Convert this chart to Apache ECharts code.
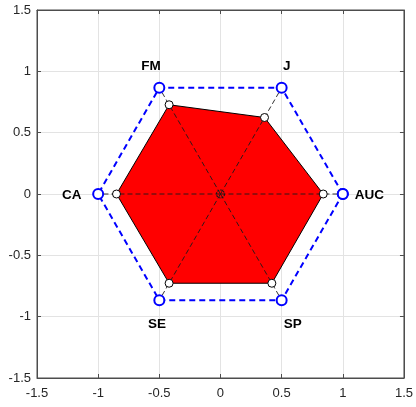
<!DOCTYPE html>
<html>
<head>
<meta charset="utf-8">
<script src="https://cdn.jsdelivr.net/npm/echarts@6/dist/echarts.min.js"></script>
<style>
  html, body { margin: 0; padding: 0; background: #fff; }
  #chart { width: 416px; height: 407px; }
</style>
</head>
<body>
<div id="chart"></div>
<script>
// radar-like plot on cartesian axes
var categories = ['AUC', 'J', 'FM', 'CA', 'SE', 'SP'];
var anglesDeg = [0, 60, 120, 180, 240, 300];
var scoreValues = [0.84, 0.72, 0.84, 0.85, 0.84, 0.84];
var outerValues = [1, 1, 1, 1, 1, 1];
var labelRadius = [1.2, 1.2, 1.2, 1.2, 1.2, 1.2];
var tickValues = [-1.5, -1, -0.5, 0, 0.5, 1, 1.5];

// small pixel nudges so the names sit where the original put them
var labelNudge = { AUC: [2, 1], J: [-7, 0], FM: [4, 0], CA: [-2, 1], SE: [10, 3], SP: [-1, 3] };

function toXY(r, deg) {
  var a = deg * Math.PI / 180;
  return [r * Math.cos(a), r * Math.sin(a)];
}

var scorePts = scoreValues.map(function (v, i) { return toXY(v, anglesDeg[i]); });
var outerPts = outerValues.map(function (v, i) { return toXY(v, anglesDeg[i]); });
var labelPts = labelRadius.map(function (v, i) {
  var p = toXY(v, anglesDeg[i]);
  return { name: categories[i], value: p, label: { offset: labelNudge[categories[i]] } };
});

var axisColor = '#4d4d4d';
var tickFont = { color: '#262626', fontSize: 13, fontFamily: 'Liberation Sans, Arial, sans-serif' };

function xAxisCfg(pos, showLabel) {
  return {
    type: 'value', position: pos, min: tickValues[0], max: tickValues[tickValues.length - 1], interval: 0.5,
    axisLine: { show: true, onZero: false, lineStyle: { color: axisColor, width: 1 } },
    axisTick: { show: true, inside: true, length: 4, lineStyle: { color: axisColor } },
    axisLabel: Object.assign({ show: showLabel, margin: 9, formatter: function (v) { return String(v); } }, tickFont),
    splitLine: { show: showLabel, lineStyle: { color: '#e3e3e3', width: 1 } }
  };
}

var series = [];

series.push({
  type: 'custom',
  silent: true,
  z: 1,
  data: [[0, 0]],
  renderItem: function (params, api) {
    var pts = scorePts.map(function (p) { return api.coord(p); });
    return {
      type: 'polygon',
      shape: { points: pts },
      style: { fill: '#ff0000', stroke: '#000000', lineWidth: 1 }
    };
  }
});

outerPts.forEach(function (p) {
  series.push({
    type: 'line', silent: true, z: 2, symbol: 'none',
    data: [[0, 0], p],
    lineStyle: { color: '#1a1a1a', width: 0.9, type: [5, 3] }
  });
});

series.push({
  type: 'line', silent: true, z: 3,
  data: outerPts.concat([outerPts[0]]),
  symbol: 'emptyCircle', symbolSize: 10, showSymbol: true, showAllSymbol: true,
  lineStyle: { color: '#0000ff', width: 2, type: [6, 4] },
  itemStyle: { color: '#0000ff', borderColor: '#0000ff', borderWidth: 1.6 }
});

series.push({
  type: 'scatter', silent: true, z: 4,
  data: scorePts,
  symbol: 'circle', symbolSize: 8,
  itemStyle: { color: '#ffffff', borderColor: '#000000', borderWidth: 1, opacity: 1 }
});

series.push({
  type: 'scatter', silent: true, z: 4,
  data: [[0, 0]],
  symbol: 'circle', symbolSize: 8,
  itemStyle: { color: 'rgba(0,0,0,0)', borderColor: '#1a1a1a', borderWidth: 1.2, borderType: [2, 1], opacity: 1 }
});

series.push({
  type: 'scatter', silent: true, z: 5,
  data: labelPts,
  symbolSize: 0,
  itemStyle: { opacity: 1 },
  label: {
    show: true, position: 'inside', formatter: '{b}',
    color: '#000000', opacity: 1, textBorderWidth: 0, fontSize: 13.5, fontWeight: 'bold',
    fontFamily: 'Liberation Sans, Arial, sans-serif'
  }
});

var chart = echarts.init(document.getElementById('chart'));
chart.setOption({
  animation: false,
  backgroundColor: '#ffffff',
  grid: { left: 37, right: 11, top: 10, bottom: 29, show: true, borderColor: axisColor, borderWidth: 1 },
  xAxis: [xAxisCfg('bottom', true), xAxisCfg('top', false)],
  yAxis: [
    Object.assign(xAxisCfg('left', true), { axisLabel: Object.assign({ show: true, margin: 6, formatter: function (v) { return String(v); } }, tickFont) }),
    xAxisCfg('right', false)
  ],
  series: series
});
</script>
</body>
</html>
